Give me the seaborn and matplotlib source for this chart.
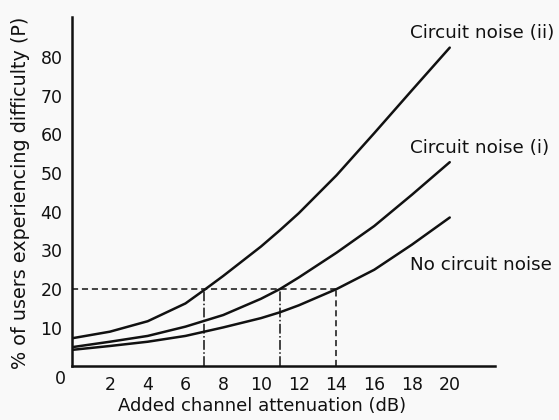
import matplotlib
matplotlib.use('Agg')
import matplotlib.pyplot as plt
import pandas as pd
import seaborn as sns

# values (dB -> % of users)
atten = [0, 2, 4, 6, 7, 8, 10, 11, 12, 14, 16, 18, 20]
noise_ii = [7.3, 9.0, 11.7, 16.3, 19.8, 23.4, 31.0, 35.2, 39.6, 49.4, 60.3, 71.4, 82.4]
noise_i = [5.0, 6.4, 7.9, 10.3, 11.8, 13.3, 17.5, 20.0, 23.0, 29.4, 36.3, 44.4, 52.8]
no_noise = [4.3, 5.3, 6.4, 7.9, 9.0, 10.1, 12.5, 14.0, 15.8, 20.0, 25.0, 31.5, 38.5]
curve_names = ['Circuit noise (ii)', 'Circuit noise (i)', 'No circuit noise']
label_y = [86.2, 56.5, 26.2]
cross_x = [7, 11, 14]
x_ticks = [2, 4, 6, 8, 10, 12, 14, 16, 18, 20]
y_ticks = [10, 20, 30, 40, 50, 60, 70, 80]

df = pd.DataFrame({
    'atten': atten * 3,
    'P': noise_ii + noise_i + no_noise,
    'curve': [curve_names[0]] * len(atten) + [curve_names[1]] * len(atten) + [curve_names[2]] * len(atten),
})

sns.set_style('white')
plt.rcParams['font.family'] = ['DejaVu Sans']

fig = plt.figure(figsize=(5.59, 4.20), dpi=100)
fig.patch.set_facecolor('#f9f9f9')
ax = fig.add_axes([0.1292, 0.1274, 0.7564, 0.832])
ax.set_facecolor('#f9f9f9')

sns.lineplot(data=df, x='atten', y='P', hue='curve', palette=['#111111'] * 3,
             linewidth=1.8, legend=False, ax=ax)

# 20 % reference lines
ax.plot([0, cross_x[-1]], [20, 20], color='#111111', lw=1.1, ls=(0, (4, 2.5)))
styles = ['-.', '-.', (0, (4, 2.5))]
for cx, st in zip(cross_x, styles):
    ax.plot([cx, cx], [0, 20], color='#111111', lw=1.1, ls=st)

for name, ly in zip(curve_names, label_y):
    ax.text(17.9, ly, name, fontsize=13.2, va='center', ha='left', clip_on=False,
            color='#111111')

ax.text(-0.65, -3.2, '0', fontsize=12.5, ha='center', va='center', clip_on=False,
        color='#111111')

ax.set_xlim(0, 22.4)
ax.set_ylim(0, 90.3)
ax.set_xticks(x_ticks)
ax.set_yticks(y_ticks)
ax.tick_params(axis='both', direction='in', length=5, width=1.3, color='#111111',
               labelsize=12.5, labelcolor='#111111')
ax.tick_params(axis='x', pad=7)
ax.tick_params(axis='y', pad=7)

for s in ['top', 'right']:
    ax.spines[s].set_visible(False)
for s in ['left', 'bottom']:
    ax.spines[s].set_color('#111111')
    ax.spines[s].set_linewidth(1.8)

ax.set_xlabel('Added channel attenuation (dB)', fontsize=13, color='#111111')
ax.set_ylabel('% of users experiencing difficulty (P)', fontsize=13.8, color='#111111')
ax.xaxis.set_label_coords(0.449, -0.087)
ax.yaxis.set_label_coords(-0.10, 0.498)

fig.savefig('out.png', dpi=100, facecolor=fig.get_facecolor())
